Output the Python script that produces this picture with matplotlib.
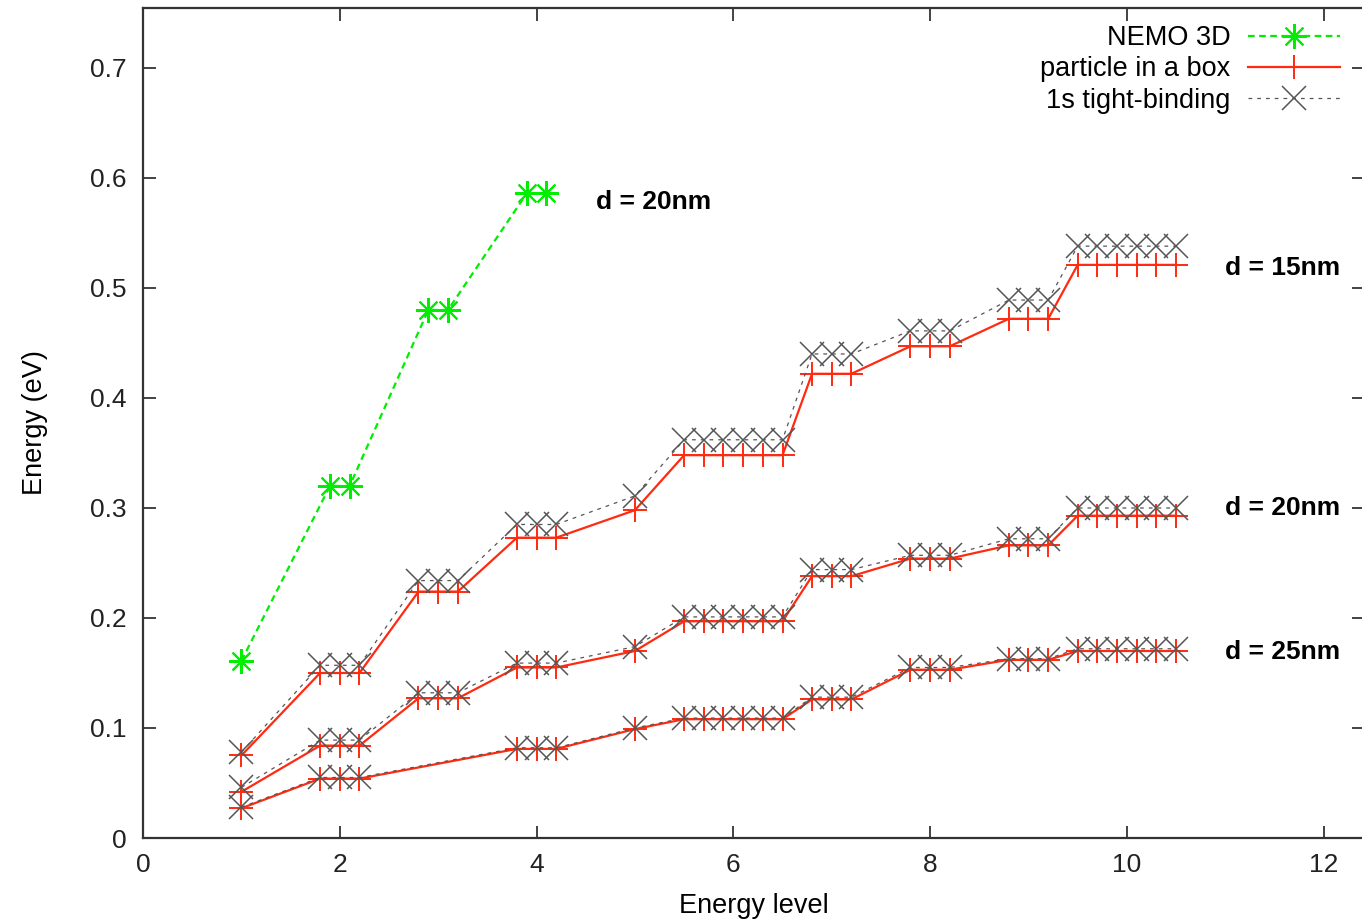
import matplotlib.pyplot as plt

plt.rcParams['font.family'] = ['Liberation Sans', 'DejaVu Sans']

# state positions along the level axis (degenerate states spread around each level)
x_states = [1.0, 1.8, 2.0, 2.2, 2.8, 3.0, 3.2, 3.8, 4.0, 4.2, 5.0,
            5.5, 5.7, 5.9, 6.1, 6.3, 6.5, 6.8, 7.0, 7.2, 7.8, 8.0, 8.2,
            8.8, 9.0, 9.2, 9.5, 9.7, 9.9, 10.1, 10.3, 10.5]
x_states_25 = [1.0, 1.8, 2.0, 2.2, 3.8, 4.0, 4.2, 5.0,
               5.5, 5.7, 5.9, 6.1, 6.3, 6.5, 6.8, 7.0, 7.2, 7.8, 8.0, 8.2,
               8.8, 9.0, 9.2, 9.5, 9.7, 9.9, 10.1, 10.3, 10.5]

# NEMO 3D, d = 20nm
x_nemo = [1.0, 1.9, 2.1, 2.9, 3.1, 3.9, 4.1]
e_nemo = [0.161, 0.320, 0.320, 0.480, 0.480, 0.586, 0.586]

# particle in a box
box_15 = [0.075, 0.150, 0.150, 0.150, 0.224, 0.224, 0.224, 0.273, 0.273, 0.273, 0.298,
          0.348, 0.348, 0.348, 0.348, 0.348, 0.348, 0.422, 0.422, 0.422, 0.447, 0.447, 0.447,
          0.472, 0.472, 0.472, 0.521, 0.521, 0.521, 0.521, 0.521, 0.521]
box_20 = [0.042, 0.084, 0.084, 0.084, 0.127, 0.127, 0.127, 0.155, 0.155, 0.155, 0.170,
          0.197, 0.197, 0.197, 0.197, 0.197, 0.197, 0.238, 0.238, 0.238, 0.254, 0.254, 0.254,
          0.266, 0.266, 0.266, 0.293, 0.293, 0.293, 0.293, 0.293, 0.293]
box_25 = [0.027, 0.054, 0.054, 0.054, 0.081, 0.081, 0.081, 0.099,
          0.108, 0.108, 0.108, 0.108, 0.108, 0.108, 0.126, 0.126, 0.126, 0.153, 0.153, 0.153,
          0.162, 0.162, 0.162, 0.170, 0.170, 0.170, 0.170, 0.170, 0.170]

# 1s tight-binding
tb_15 = [0.078, 0.157, 0.157, 0.157, 0.234, 0.234, 0.234, 0.285, 0.285, 0.285, 0.311,
         0.362, 0.362, 0.362, 0.362, 0.362, 0.362, 0.440, 0.440, 0.440, 0.461, 0.461, 0.461,
         0.489, 0.489, 0.489, 0.538, 0.538, 0.538, 0.538, 0.538, 0.538]
tb_20 = [0.046, 0.089, 0.089, 0.089, 0.132, 0.132, 0.132, 0.159, 0.159, 0.159, 0.174,
         0.201, 0.201, 0.201, 0.201, 0.201, 0.201, 0.244, 0.244, 0.244, 0.257, 0.257, 0.257,
         0.272, 0.272, 0.272, 0.300, 0.300, 0.300, 0.300, 0.300, 0.300]
tb_25 = [0.028, 0.055, 0.055, 0.055, 0.082, 0.082, 0.082, 0.100,
         0.109, 0.109, 0.109, 0.109, 0.109, 0.109, 0.128, 0.128, 0.128, 0.155, 0.155, 0.155,
         0.163, 0.163, 0.163, 0.172, 0.172, 0.172, 0.172, 0.172, 0.172]

labels = ['d = 20nm', 'd = 15nm', 'd = 20nm', 'd = 25nm']
label_x = [4.6, 11.0, 11.0, 11.0]
label_y = [0.578, 0.518, 0.300, 0.169]

fig = plt.figure(figsize=(13.62, 9.23), dpi=100)
ax = fig.add_axes([143 / 1362, 85 / 923, 1221 / 1362, 830 / 923])

star = (8, 2, 0)
ax.plot(x_nemo, e_nemo, color='#00ee00', ls=(0, (3, 2)), lw=1.6,
        marker=star, ms=18, mew=1.5, label='NEMO 3D')

for i, (xs, ys) in enumerate([(x_states, box_15), (x_states, box_20), (x_states_25, box_25)]):
    ax.plot(xs, ys, color='#ff2a10', lw=1.6, marker='+', ms=17, mew=1.4,
            label='particle in a box' if i == 0 else None)

for i, (xs, ys) in enumerate([(x_states, tb_15), (x_states, tb_20), (x_states_25, tb_25)]):
    ax.plot(xs, ys, color='#555555', ls=(0, (3, 4)), lw=0.9, marker='x', ms=17, mew=1.1,
            label='1s tight-binding' if i == 0 else None)

for txt, tx, ty in zip(labels, label_x, label_y):
    ax.text(tx, ty, txt, fontsize=19, fontweight='bold', ha='left', va='center')

ax.set_xlim(0, 12.41)
ax.set_ylim(0, 0.7545)
ax.set_xticks(range(0, 13, 2))
ax.set_yticks([0, 0.1, 0.2, 0.3, 0.4, 0.5, 0.6, 0.7])
ax.set_yticklabels(['0', '0.1', '0.2', '0.3', '0.4', '0.5', '0.6', '0.7'])
ax.tick_params(direction='in', length=9, width=1.2, top=True, right=True,
               labelsize=19, colors='#222222')
ax.tick_params(axis='y', pad=12)
ax.tick_params(axis='x', pad=11)
for sp in ax.spines.values():
    sp.set_linewidth(1.6)
    sp.set_color('#333333')

ax.set_xlabel('Energy level', fontsize=19.5, labelpad=11)
ax.set_ylabel('Energy (eV)', fontsize=19.5, labelpad=30)

ax.legend(loc='upper right', bbox_to_anchor=(1340 / 1362, 898 / 923),
          bbox_transform=fig.transFigure, frameon=False, markerfirst=False,
          fontsize=19.5, handlelength=3.4, handletextpad=0.65, labelspacing=0.2,
          borderaxespad=0, borderpad=0)

fig.savefig('out.png', dpi=100)
